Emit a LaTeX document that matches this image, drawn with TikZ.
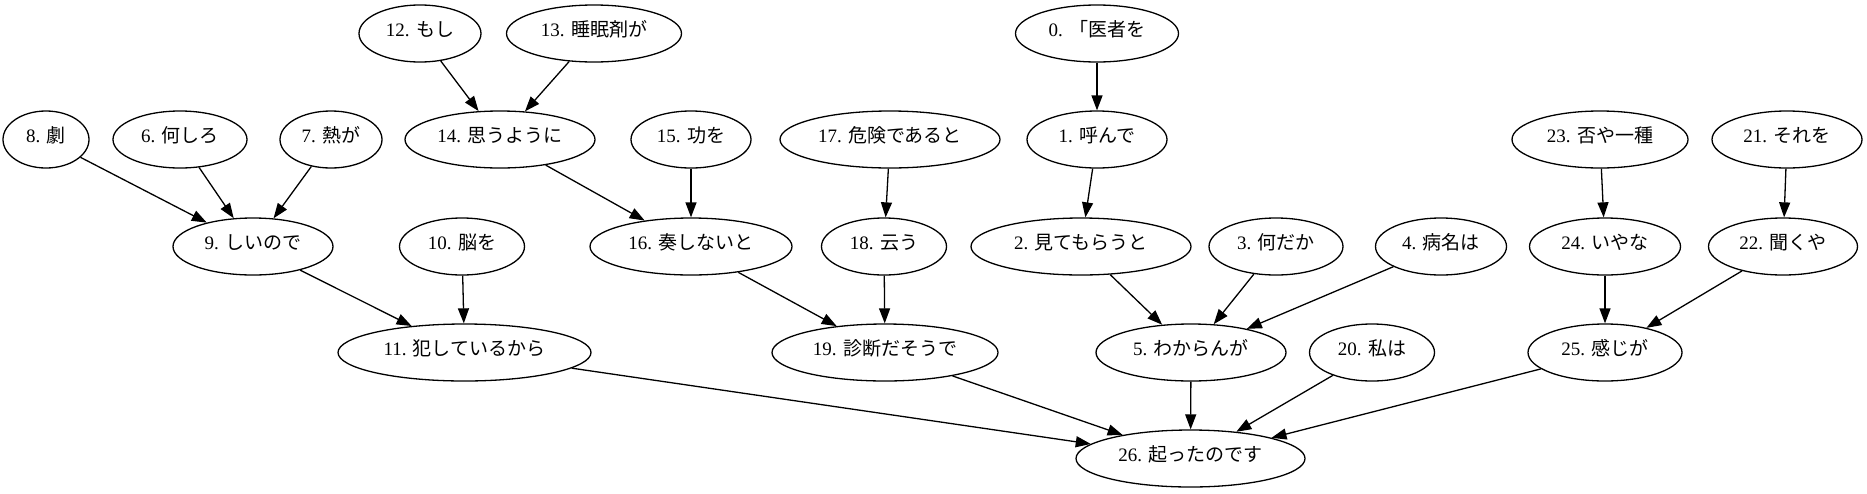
\documentclass[tikz,border=0pt]{standalone}
\usepackage{fontspec}
\setmainfont{Liberation Serif}
\newfontfamily\jp{Noto Sans CJK JP}
\usetikzlibrary{shapes.geometric,arrows.meta}
\tikzset{
  nd/.style={draw, ellipse, line width=1.3pt, inner sep=0pt, minimum height=57pt,
    text height=15pt, text depth=9pt,
    font=\fontsize{19}{22}\selectfont},
  ed/.style={-{Triangle[length=15pt,width=11pt]}, line width=1.3pt}
}
\begin{document}
\begin{tikzpicture}[x=1pt,y=-1pt]
\useasboundingbox (0,0) rectangle (1867,493);
% row 1
\node[nd, minimum width=122pt] (n12) at (420,33.5) {12. {\jp もし}};
\node[nd, minimum width=175pt] (n13) at (594,33.5) {13. {\jp 睡眠剤が}};
\node[nd, minimum width=163pt] (n0) at (1097,33.5) {0. {\jp 「医者を}};
% row 2
\node[nd, minimum width=86pt] (n8) at (46,139.5) {8. {\jp 劇}};
\node[nd, minimum width=134pt] (n6) at (180,139.5) {6. {\jp 何しろ}};
\node[nd, minimum width=102pt] (n7) at (331,139.5) {7. {\jp 熱が}};
\node[nd, minimum width=190pt] (n14) at (500,139.5) {14. {\jp 思うように}};
\node[nd, minimum width=120pt] (n15) at (691,139.5) {15. {\jp 功を}};
\node[nd, minimum width=220pt] (n17) at (890,139.5) {17. {\jp 危険であると}};
\node[nd, minimum width=140pt] (n1) at (1097,139.5) {1. {\jp 呼んで}};
\node[nd, minimum width=176pt] (n23) at (1600,139.5) {23. {\jp 否や一種}};
\node[nd, minimum width=150pt] (n21) at (1787,139.5) {21. {\jp それを}};
% row 3
\node[nd, minimum width=160pt] (n9) at (253,246.5) {9. {\jp しいので}};
\node[nd, minimum width=125pt] (n10) at (462,246.5) {10. {\jp 脳を}};
\node[nd, minimum width=202pt] (n16) at (691,246.5) {16. {\jp 奏しないと}};
\node[nd, minimum width=125pt] (n18) at (884,246.5) {18. {\jp 云う}};
\node[nd, minimum width=220pt] (n2) at (1081,246.5) {2. {\jp 見てもらうと}};
\node[nd, minimum width=134pt] (n3) at (1276,246.5) {3. {\jp 何だか}};
\node[nd, minimum width=131pt] (n4) at (1441,246.5) {4. {\jp 病名は}};
\node[nd, minimum width=151pt] (n24) at (1605,246.5) {24. {\jp いやな}};
\node[nd, minimum width=149pt] (n22) at (1783,246.5) {22. {\jp 聞くや}};
% row 4
\node[nd, minimum width=253pt] (n11) at (464.5,352.5) {11. {\jp 犯しているから}};
\node[nd, minimum width=226pt] (n19) at (885,352.5) {19. {\jp 診断だそうで}};
\node[nd, minimum width=190pt] (n5) at (1191,352.5) {5. {\jp わからんが}};
\node[nd, minimum width=125pt] (n20) at (1372,352.5) {20. {\jp 私は}};
\node[nd, minimum width=154pt] (n25) at (1605,352.5) {25. {\jp 感じが}};
% row 5
\node[nd, minimum width=229pt] (n26) at (1190.5,458.5) {26. {\jp 起ったのです}};
% edges
\draw[ed] (n12) -- (n14);
\draw[ed] (n13) -- (n14);
\draw[ed] (n0) -- (n1);
\draw[ed] (n8) -- (n9);
\draw[ed] (n6) -- (n9);
\draw[ed] (n7) -- (n9);
\draw[ed] (n14) -- (n16);
\draw[ed] (n15) -- (n16);
\draw[ed] (n17) -- (n18);
\draw[ed] (n1) -- (n2);
\draw[ed] (n23) -- (n24);
\draw[ed] (n21) -- (n22);
\draw[ed] (n9) -- (n11);
\draw[ed] (n10) -- (n11);
\draw[ed] (n16) -- (n19);
\draw[ed] (n18) -- (n19);
\draw[ed] (n2) -- (n5);
\draw[ed] (n3) -- (n5);
\draw[ed] (n4) -- (n5);
\draw[ed] (n24) -- (n25);
\draw[ed] (n22) -- (n25);
\draw[ed] (n11) -- (n26);
\draw[ed] (n19) -- (n26);
\draw[ed] (n5) -- (n26);
\draw[ed] (n20) -- (n26);
\draw[ed] (n25) -- (n26);
\end{tikzpicture}
\end{document}
